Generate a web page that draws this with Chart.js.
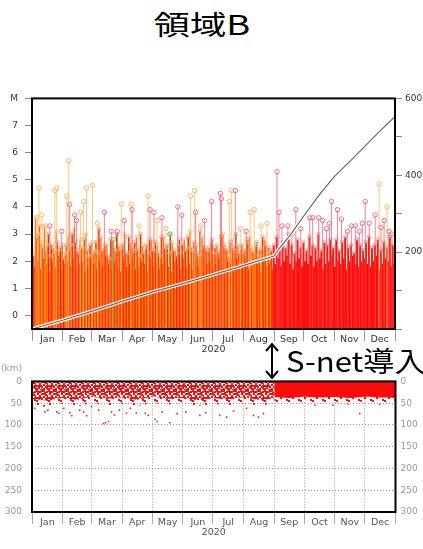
<!DOCTYPE html>
<html>
<head>
<meta charset="utf-8">
<script src="https://cdn.jsdelivr.net/npm/chart.js@4"></script>
<style>
  body { margin: 0; width: 423px; height: 549px; position: relative; overflow: hidden; background: #fff;
         font-family: "Noto Sans CJK JP", "Noto Sans", sans-serif; }
  #title { position: absolute; left: 0; top: 10px; width: 403px; text-align: center; font-size: 27px; line-height: 1; }
  #title span { display: inline-block; transform: scaleX(1.35); }
  #snet { position: absolute; left: 286px; top: 346px; font-size: 28px; line-height: 1; transform: scaleX(1.11); transform-origin: left; white-space: nowrap; }
  #arrow { position: absolute; left: 263px; top: 341px; }
  #km { position: absolute; left: 1px; top: 363px; font: 9px "DejaVu Sans", sans-serif; color: #999; }
  #mtBox { position: absolute; left: 0; top: 86px; }
  #dtBox { position: absolute; left: 0; top: 366px; }
</style>
</head>
<body>
<div id="title"><span>領域B</span></div>
<div id="mtBox"><canvas id="mt" width="423" height="276"></canvas></div>
<div id="dtBox"><canvas id="dt" width="423" height="183"></canvas></div>
<div id="km">(km)</div>
<svg id="arrow" width="20" height="40" viewBox="0 0 20 40">
  <line x1="9" y1="4" x2="9" y2="36" stroke="#000" stroke-width="2"/>
  <polyline points="3,10 9,3 15,10" fill="none" stroke="#000" stroke-width="2"/>
  <polyline points="3,30 9,37 15,30" fill="none" stroke="#000" stroke-width="2"/>
</svg>
<div id="snet">S-net導入</div>

<script>
// months of 2020 (leap year), x axis in day-of-year
const months = ['Jan', 'Feb', 'Mar', 'Apr', 'May', 'Jun', 'Jul', 'Aug', 'Sep', 'Oct', 'Nov', 'Dec'];
const monthStarts = [0, 31, 60, 91, 121, 152, 182, 213, 244, 274, 305, 335, 366];
const mTicks = [0, 1, 2, 3, 4, 5, 6, 7, 8];
const countTicks = [0, 100, 200, 300, 400, 500, 600];
const depthTicks = [0, 50, 100, 150, 200, 250, 300];

// dense small events, max M per 3-day bin (Jan-Aug: deeper = orange, shallow = red)
const orangePre = [2.4, 3.6, 3.0, 2.7, 3.3, 2.6, 2.2, 2.5, 3.1, 2.4, 2.6,
  2.3, 2.9, 2.6, 3.2, 2.4, 2.8, 2.5, 3.0, 2.2,
  2.7, 2.4, 2.3, 2.9, 2.5, 2.6, 2.1, 2.8, 2.4, 2.6,
  2.5, 3.0, 2.3, 2.7, 2.4, 2.9, 2.2, 2.6, 2.5, 2.3,
  2.8, 2.4, 2.6, 2.2, 2.9, 2.5, 2.3, 2.7, 2.4, 2.6,
  2.3, 2.8, 2.5, 3.1, 2.4, 2.6, 2.2, 2.9, 2.5, 2.4,
  2.7, 2.3, 2.6, 2.4, 3.0, 2.5, 2.2, 2.8, 2.4, 2.6,
  2.5, 2.3, 2.7, 2.9, 2.4, 2.6, 2.2, 2.5, 2.8, 2.3, 2.4];
const redPre = [2.2, 2.9, 3.3, 2.5, 2.4, 3.0, 2.6, 2.3, 2.7, 2.5, 2.1,
  2.6, 2.4, 3.0, 2.7, 2.3, 2.5, 2.8, 2.4, 2.6,
  2.3, 2.7, 3.2, 2.4, 2.6, 2.2, 2.8, 2.5, 3.0, 2.4,
  2.6, 2.3, 2.9, 2.5, 2.7, 2.4, 3.0, 2.3, 2.6, 2.8,
  2.4, 2.7, 2.3, 2.9, 2.5, 2.6, 3.0, 2.4, 2.2, 2.8,
  2.6, 2.4, 2.9, 2.5, 2.7, 2.3, 3.1, 2.6, 2.4, 2.5,
  2.8, 2.5, 2.3, 2.9, 2.6, 2.4, 2.7, 2.5, 3.0, 2.3,
  2.6, 2.4, 2.8, 2.5, 2.3, 2.7, 2.4, 2.9, 2.6, 2.5, 2.4];
const lowPre = [1.8, 2.0, 1.7, 2.1, 1.9, 1.6, 2.0, 1.8, 2.2, 1.7, 1.9,
  2.0, 1.8, 2.1, 1.7, 1.9, 2.0, 1.6, 1.8, 2.1,
  1.9, 1.7, 2.0, 1.8, 2.2, 1.9, 1.7, 2.0, 1.8, 1.6,
  2.0, 1.8, 1.9, 2.1, 1.7, 1.8, 2.0, 1.9, 1.6, 2.1,
  1.8, 2.0, 1.7, 1.9, 2.1, 1.8, 1.6, 2.0, 1.9, 1.7,
  2.1, 1.8, 1.9, 1.7, 2.0, 1.8, 2.2, 1.6, 1.9, 2.0,
  1.7, 1.9, 2.1, 1.8, 1.6, 2.0, 1.9, 1.7, 2.1, 1.8,
  1.9, 2.0, 1.7, 1.8, 2.1, 1.9, 1.6, 2.0, 1.8, 1.9, 1.7];
// Sep-Dec (after S-net), 3-day bins from day 243
const redPost = [2.6, 2.9, 2.4, 2.7, 2.5, 3.0, 2.6, 2.3, 2.8, 2.5,
  2.7, 2.4, 2.9, 2.6, 2.5, 3.0, 2.4, 2.7, 2.6, 2.8,
  2.5, 2.8, 2.4, 2.7, 2.9, 2.5, 2.6, 2.3, 2.8, 2.6,
  2.4, 2.7, 2.9, 2.5, 2.6, 2.8, 2.4, 2.7, 2.5, 2.9, 2.6];
const lowPost = [1.9, 2.1, 1.8, 2.0, 2.2, 1.9, 1.7, 2.0, 2.1, 1.8,
  2.0, 1.9, 2.2, 1.8, 2.0, 2.1, 1.7, 1.9, 2.0, 2.2,
  1.8, 2.0, 1.9, 2.1, 1.7, 2.0, 2.2, 1.9, 1.8, 2.0,
  2.1, 1.9, 1.8, 2.0, 2.2, 1.7, 1.9, 2.1, 2.0, 1.8, 1.9];

// larger events
const bigOrangeDays = [5, 7, 10, 14, 23, 25, 35, 37, 49, 52, 55, 61, 66, 90, 100, 108, 117, 126, 135, 160, 164, 170, 199, 201, 210, 220, 224, 231, 237, 350, 358];
const bigOrangeMags = [3.6, 4.7, 3.7, 3.3, 4.6, 4.7, 4.4, 5.7, 3.8, 4.2, 4.7, 4.8, 3.4, 4.1, 4.1, 3.3, 4.4, 3.5, 3.2, 4.4, 4.6, 3.3, 4.2, 4.6, 3.2, 3.8, 3.9, 3.3, 3.4, 4.85, 4.0];
const bigRedDays = [18, 30, 38, 43, 45, 73, 80, 86, 93, 101, 119, 123, 131, 147, 151, 165, 174, 181, 190, 191, 205, 216,
  247, 249, 252, 258, 262, 266, 271, 280, 283, 289, 293, 297, 300, 302, 308, 312, 318, 322, 326, 330, 333, 336, 340, 346, 352, 355, 360, 363];
const bigRedMags = [3.3, 3.1, 4.1, 3.7, 3.5, 3.8, 3.1, 3.1, 3.5, 3.9, 3.9, 3.8, 3.6, 4.0, 3.7, 3.8, 3.5, 4.2, 4.5, 4.3, 4.6, 3.1,
  5.3, 3.8, 3.3, 3.3, 3.0, 3.9, 3.2, 3.6, 3.6, 3.6, 3.5, 3.2, 3.4, 4.2, 3.9, 3.55, 3.1, 3.3, 3.3, 3.1, 3.4, 4.2, 3.4, 3.7, 3.25, 3.5, 3.1, 3.0];
const bigGreenDays = [82, 139];
const bigGreenMags = [2.8, 3.0];

// cumulative number of events (right axis)
const cumDays = [0, 30, 60, 91, 121, 152, 182, 213, 244, 250, 260, 274, 290, 305, 320, 335, 350, 366];
const cumCount = [0, 22, 46, 72, 96, 118, 141, 165, 190, 212, 243, 294, 350, 397, 435, 474, 513, 553];

// depth-time: edges of the dense hypocentre bands and the scattered deeper events
const bandDaysPre = [0, 15, 30, 45, 60, 75, 91, 106, 121, 136, 152, 167, 182, 197, 213, 228, 244];
const denseKmPre = [40, 44, 38, 42, 36, 40, 37, 42, 35, 40, 38, 43, 39, 41, 37, 42, 40];
const sparseKmPre = [56, 58, 52, 57, 50, 55, 52, 56, 50, 53, 49, 56, 52, 54, 50, 55, 50];
const bandDaysPost = [244, 259, 274, 289, 305, 320, 335, 350, 366];
const denseKmPost = [36, 38, 35, 37, 36, 38, 35, 37, 38];
const sparseKmPost = [47, 49, 46, 50, 47, 49, 46, 50, 48];
const deepDays = [3, 13, 16, 25, 27, 32, 38, 40, 48, 52, 55, 60, 67, 72, 74, 77, 80, 83, 88, 95, 99, 105, 114, 117, 124, 126, 131, 139, 146, 155, 169, 175, 189, 196, 203, 216, 223, 228, 233, 285, 303, 318, 330, 350];
const deepKm = [62, 70, 66, 70, 73, 62, 72, 79, 66, 70, 79, 58, 66, 97, 95, 92, 70, 77, 66, 73, 62, 73, 73, 78, 87, 92, 70, 95, 74, 70, 78, 72, 78, 82, 68, 62, 78, 82, 74, 55, 55, 52, 74, 53];

const tickFont = { family: 'DejaVu Sans', size: 9 };
const monthFont = { family: 'DejaVu Sans', size: 9.5 };
const mids = months.map((m, i) => (monthStarts[i] + monthStarts[i + 1]) / 2);

function monthTicks(scale) {
  const vals = monthStarts.concat(mids).sort((a, b) => a - b);
  scale.ticks = vals.map(v => ({ value: v }));
}
function monthLabel(v) {
  const i = mids.indexOf(v);
  return i >= 0 ? months[i] : '';
}
function isStart(v) { return monthStarts.indexOf(v) >= 0; }

// black box round the plot area
const frame = {
  id: 'frame',
  afterDatasetsDraw(chart) {
    const { ctx, chartArea: a } = chart;
    ctx.save();
    ctx.strokeStyle = '#000';
    ctx.lineWidth = 2;
    ctx.strokeRect(a.left, a.top, a.right - a.left, a.bottom - a.top);
    ctx.restore();
  }
};

// vertical stems from the bottom of the M axis
function stems(days, mags, color, width, order) {
  const pts = [];
  days.forEach((d, i) => {
    if (mags[i] == null) return;
    pts.push({ x: d, y: -0.5 }, { x: d, y: mags[i] }, { x: d, y: null });
  });
  return { type: 'line', data: pts, borderColor: color, borderWidth: width, borderCapStyle: 'butt',
    pointRadius: 0, spanGaps: false, fill: false, tension: 0, order: order, yAxisID: 'y' };
}
function tips(days, mags, color, r, order) {
  return { type: 'line', data: days.map((d, i) => ({ x: d, y: mags[i] })), showLine: false,
    pointRadius: r, pointBorderWidth: 1, pointBorderColor: color, pointBackgroundColor: 'rgba(255,255,255,0.25)',
    order: order, yAxisID: 'y' };
}

const preOrangeDays = orangePre.map((m, i) => 3 * i + 0.5);
const preRedDays = redPre.map((m, i) => 3 * i + 1.5);
const preLowDays = lowPre.map((m, i) => 3 * i + 2.5);
const postRedDays = redPost.map((m, i) => 243 + 3 * i + 0.75);
const postLowDays = lowPost.map((m, i) => 243 + 3 * i + 2.25);

const xTop = {
  type: 'linear', min: 0, max: 366, offset: false,
  afterBuildTicks: monthTicks,
  afterFit: s => { s.height = 33; },
  ticks: { autoSkip: false, maxRotation: 0, padding: -7, font: monthFont, color: '#333', callback: v => monthLabel(v) },
  grid: { drawOnChartArea: false, tickLength: 12, tickColor: c => isStart(c.tick.value) ? '#999' : 'rgba(0,0,0,0)' },
  border: { display: false },
  title: { display: true, text: '2020', font: monthFont, color: '#333', padding: { top: 0, bottom: 7 } }
};

new Chart(document.getElementById('mt'), {
  type: 'line',
  data: {
    datasets: [
      { type: 'line', data: cumDays.map((d, i) => ({ x: d, y: cumCount[i] })), borderColor: '#666', borderWidth: 1.2,
        pointRadius: 0, fill: false, tension: 0, order: 1, yAxisID: 'y2' },
      { type: 'line', data: cumDays.map((d, i) => ({ x: d, y: cumCount[i] })), borderColor: '#fff', borderWidth: 3.5,
        pointRadius: 0, fill: false, tension: 0, order: 2, yAxisID: 'y2' },
      tips(bigRedDays, bigRedMags, 'rgba(235,90,120,0.85)', 2.2, 4),
      tips(bigOrangeDays, bigOrangeMags, 'rgba(250,175,90,0.9)', 2.2, 4),
      tips(bigGreenDays, bigGreenMags, 'rgba(90,190,90,0.9)', 2.2, 4),
      stems(bigRedDays, bigRedMags, 'rgba(240,80,100,0.7)', 1, 5),
      stems(bigOrangeDays, bigOrangeMags, 'rgba(255,185,90,0.8)', 1, 5),
      stems(bigGreenDays, bigGreenMags, 'rgba(90,190,90,0.8)', 1, 5),
      tips(preOrangeDays, orangePre, 'rgba(255,165,70,0.6)', 1.8, 6),
      tips(preRedDays, redPre, 'rgba(240,90,110,0.55)', 1.8, 6),
      tips(postRedDays, redPost, 'rgba(240,90,110,0.55)', 1.8, 6),
      stems(preOrangeDays, orangePre, 'rgb(255,125,0)', 1.5, 8),
      stems(preRedDays, redPre, 'rgb(255,30,0)', 1.5, 8),
      stems(preLowDays, lowPre, 'rgb(255,60,0)', 1.5, 8),
      stems(postRedDays, redPost, 'rgb(255,20,10)', 2, 8),
      stems(postLowDays, lowPost, 'rgb(255,10,10)', 2, 8)
    ]
  },
  options: {
    responsive: false, animation: false,
    layout: { padding: { top: 10, left: 0, right: 0, bottom: 0 } },
    plugins: { legend: { display: false }, tooltip: { enabled: false } },
    scales: {
      x: xTop,
      y: {
        min: -0.5, max: 8, position: 'left',
        afterBuildTicks: s => { s.ticks = mTicks.map(v => ({ value: v })); },
        afterFit: s => { s.width = 32; },
        ticks: { padding: 7, font: tickFont, color: '#333', callback: v => v === 8 ? 'M' : v },
        grid: { drawOnChartArea: false, tickLength: 7, color: '#888' },
        border: { display: false }
      },
      y2: {
        min: 0, max: 600, position: 'right',
        afterBuildTicks: s => { s.ticks = countTicks.map(v => ({ value: v })); },
        afterFit: s => { s.width = 28; },
        ticks: { padding: 3, font: tickFont, color: '#333', callback: v => (v > 0 && v % 200 === 0) ? v : '' },
        grid: { drawOnChartArea: false, tickLength: 7, color: '#888' },
        border: { display: false }
      }
    }
  },
  plugins: [frame]
});

// speckle fills for the crowded shallow events
function speckle(cells) {
  const c = document.createElement('canvas');
  c.width = 12; c.height = 12;
  const g = c.getContext('2d');
  g.fillStyle = '#ff0a0a';
  cells.forEach(p => g.fillRect(p[0], p[1], 2, 2));
  return g.createPattern(c, 'repeat');
}
const denseDots = speckle([[0, 0], [3, 1], [7, 0], [10, 1], [1, 3], [5, 3], [9, 4], [3, 5], [7, 6], [11, 5],
  [0, 7], [5, 8], [9, 8], [2, 9], [7, 10], [11, 10], [4, 11], [0, 10], [8, 2], [2, 7], [10, 7], [6, 11], [5, 0]]);
const sparseDots = speckle([[1, 1], [7, 3], [4, 7], [10, 9], [0, 10]]);

function band(days, km, fillStyle, order) {
  return { type: 'line', data: days.map((d, i) => ({ x: d, y: km[i] })), borderWidth: 0, borderColor: 'rgba(0,0,0,0)',
    backgroundColor: fillStyle, fill: { value: 0 }, pointRadius: 0, tension: 0.3, order: order };
}

const xBot = Object.assign({}, xTop, {
  afterFit: s => { s.height = 37; },
  ticks: { autoSkip: false, maxRotation: 0, padding: -7, font: monthFont, color: '#555', callback: v => monthLabel(v) },
  grid: {
    drawOnChartArea: true, tickLength: 12,
    color: c => (isStart(c.tick.value) && c.tick.value > 0 && c.tick.value < 366) ? '#999' : 'rgba(0,0,0,0)',
    tickColor: c => isStart(c.tick.value) ? '#aaa' : 'rgba(0,0,0,0)'
  },
  border: { display: false, dash: [1, 2] },
  title: { display: true, text: '2020', font: monthFont, color: '#555', padding: { top: 0, bottom: 11 } }
});

const depthAxis = (pos, width, pad) => ({
  min: 0, max: 300, reverse: true, position: pos,
  afterBuildTicks: s => { s.ticks = depthTicks.map(v => ({ value: v })); },
  afterFit: s => { s.width = width; },
  ticks: { padding: pad, font: tickFont, color: '#999' },
  grid: { display: pos === 'left', drawTicks: false, color: c => (c.tick.value > 0 && c.tick.value < 300) ? '#999' : 'rgba(0,0,0,0)' },
  border: { display: false, dash: [1, 2] }
});

new Chart(document.getElementById('dt'), {
  type: 'line',
  data: {
    datasets: [
      { type: 'line', data: deepDays.map((d, i) => ({ x: d, y: deepKm[i] })), showLine: false, pointStyle: 'rect',
        pointRadius: 1.1, pointBorderWidth: 0, pointBackgroundColor: '#ff2020', order: 1 },
      band(bandDaysPost, denseKmPost, '#ff0a0a', 2),
      band(bandDaysPre, denseKmPre, denseDots, 3),
      band(bandDaysPost, sparseKmPost, sparseDots, 4),
      band(bandDaysPre, sparseKmPre, sparseDots, 5)
    ]
  },
  options: {
    responsive: false, animation: false,
    layout: { padding: { top: 15, left: 0, right: 0, bottom: 0 } },
    plugins: { legend: { display: false }, tooltip: { enabled: false } },
    scales: {
      x: xBot,
      y: depthAxis('left', 32, 10),
      y2: depthAxis('right', 27.5, 5)
    }
  },
  plugins: [frame]
});
</script>
</body>
</html>
